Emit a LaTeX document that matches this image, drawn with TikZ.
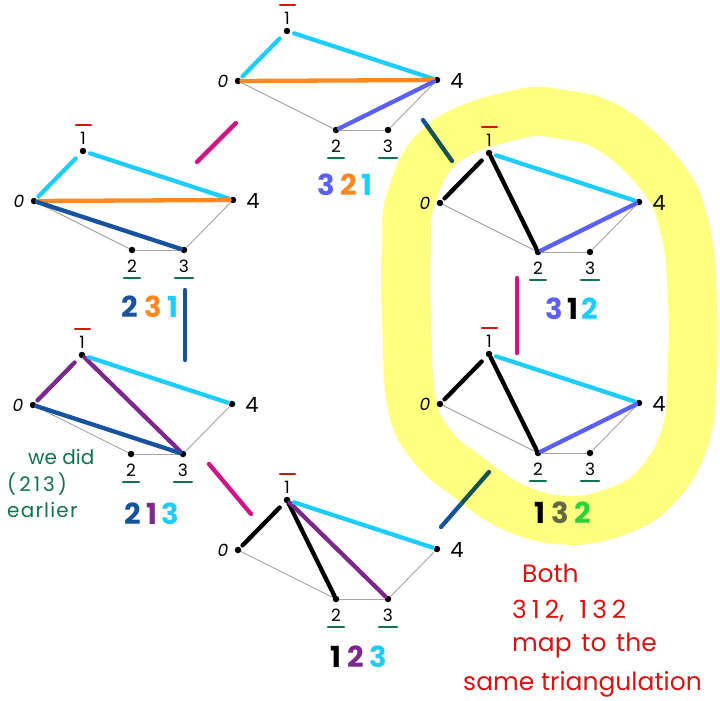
\documentclass[tikz,border=0pt]{standalone}
\usepackage{fontspec}
\setmainfont{Poppins}
\usetikzlibrary{calc}
\definecolor{cy}{RGB}{30,205,250}
\definecolor{orng}{RGB}{255,136,32}
\definecolor{vb}{RGB}{92,96,250}
\definecolor{db}{RGB}{22,82,158}
\definecolor{pu}{RGB}{124,40,140}
\definecolor{mg}{RGB}{208,20,135}
\definecolor{gn}{RGB}{20,112,82}
\definecolor{rd}{RGB}{215,20,20}
\definecolor{sl}{RGB}{96,104,136}
\definecolor{bg}{RGB}{40,212,120}
\definecolor{hl}{RGB}{255,255,128}
\definecolor{gr}{RGB}{165,165,165}
\newcommand{\lfont}{\fontsize{17}{17}\selectfont}
\newcommand{\nfont}{\fontsize{29}{29}\selectfont\bfseries}
\newcommand{\pent}[3]{%
  \node[dot] (#1-1) at (#2,#3) {};
  \node[dot] (#1-0) at (#2-49,#3+50) {};
  \node[dot] (#1-4) at (#2+150,#3+49) {};
  \node[dot] (#1-2) at (#2+49,#3+99) {};
  \node[dot] (#1-3) at (#2+101,#3+99) {};
  \node[lab] (#1-l1) at (#2,#3-13) {1};
  \draw[redbar] (#2-7,#3-26) -- (#2+8,#3-26);
  \node[lab,font=\lfont\itshape] (#1-l0) at (#2-64,#3+50) {0};
  \node[lab,font=\fontsize{21}{21}\selectfont] (#1-l4) at (#2+170,#3+50) {4};
  \node[lab] (#1-l2) at (#2+49,#3+115) {2};
  \node[lab] (#1-l3) at (#2+101,#3+115) {3};
  \draw[gnbar] (#2+41,#3+127) -- (#2+57,#3+127);
  \draw[gnbar] (#2+92,#3+127) -- (#2+110,#3+127);
  \draw[thin edge] (#1-0) -- (#1-2);
  \draw[thin edge] (#1-2) -- (#1-3);
  \draw[thin edge] (#1-3) -- (#1-4);
}
\tikzset{
  dot/.style={circle,fill=black,inner sep=0pt,minimum size=6.5pt},
  lab/.style={inner sep=0pt,font=\lfont},
  redbar/.style={draw=rd,line width=2.4pt,line cap=round},
  gnbar/.style={draw=gn,line width=2.4pt,line cap=round},
  thin edge/.style={draw=gr,line width=0.9pt},
  ce/.style={line width=4.3pt,line cap=round},
  e10/.style={ce,shorten <=7pt,shorten >=3pt},
  e14/.style={ce,shorten <=4pt,shorten >=1pt},
  conn/.style={line width=4.3pt,line cap=round},
  num/.style={inner sep=0pt,font=\nfont},
  gnote/.style={anchor=west,inner sep=0pt,text=gn,font=\fontsize{20}{20}\selectfont},
  rnote/.style={anchor=west,inner sep=0pt,text=rd,font=\fontsize{25}{25}\selectfont},
}
\begin{document}
\begin{tikzpicture}[x=1pt,y=-1pt]
\useasboundingbox[fill=white] (0,0) rectangle (720,701);
% pentagons
\pent{T}{287}{31}
\pent{LT}{83}{151}
\pent{LM}{82}{355}
\pent{B}{287}{500}
\pent{RT}{489}{153}
\pent{RM}{489}{354}
% top
\draw[e10,cy] (T-1) -- (T-0);
\draw[e14,cy] (T-1) -- (T-4);
\draw[ce,orng] (T-0) -- (T-4);
\draw[ce,vb] (T-2) -- (T-4);
% left top
\draw[e10,cy] (LT-1) -- (LT-0);
\draw[e14,cy] (LT-1) -- (LT-4);
\draw[ce,orng] (LT-0) -- (LT-4);
\draw[ce,db] (LT-0) -- (LT-3);
% left middle
\draw[e10,pu] (LM-1) -- (LM-0);
\draw[ce,pu] (LM-1) -- (LM-3);
\draw[e14,cy] (LM-1) -- (LM-4);
\draw[ce,db] (LM-0) -- (LM-3);
% bottom
\draw[e10,black] (B-1) -- (B-0);
\draw[ce,black] (B-1) -- (B-2);
\draw[ce,pu] (B-1) -- (B-3);
\draw[e14,cy] (B-1) -- (B-4);
% right top
\draw[e10,black] (RT-1) -- (RT-0);
\draw[ce,black] (RT-1) -- (RT-2);
\draw[e14,cy] (RT-1) -- (RT-4);
\draw[ce,vb] (RT-2) -- (RT-4);
% right middle
\draw[e10,black] (RM-1) -- (RM-0);
\draw[ce,black] (RM-1) -- (RM-2);
\draw[e14,cy] (RM-1) -- (RM-4);
\draw[ce,vb] (RM-2) -- (RM-4);
% permutation labels
\node[num] (Tn) at (345,185) {\textcolor{vb}{3}\hspace{5pt}\textcolor{orng}{2}\hspace{5pt}\textcolor{cy}{1}};
\node[num] (LTn) at (150,307) {\textcolor{db}{2}\hspace{6pt}\textcolor{orng}{3}\hspace{6pt}\textcolor{cy}{1}};
\node[num] (LMn) at (152,514) {\textcolor{db}{2}\hspace{5pt}\textcolor{pu}{1}\hspace{5pt}\textcolor{cy}{3}};
\node[num] (Bn) at (359,657) {\textcolor{black}{1}\hspace{6pt}\textcolor{pu}{2}\hspace{6pt}\textcolor{cy}{3}};
\node[num] (RTn) at (572,309) {\textcolor{vb}{3}\hspace{4pt}\textcolor{black}{1}\hspace{4pt}\textcolor{cy}{2}};
\node[num] (RMn) at (563,513) {\textcolor{black}{1}\hspace{6pt}\textcolor{sl}{3}\hspace{6pt}\textcolor{bg}{2}};
% connectors between triangulations
\coordinate (m1a) at (197,162); \coordinate (m1b) at (236,123);
\coordinate (b1a) at (185,290); \coordinate (b1b) at (185,360);
\coordinate (m2a) at (209,464); \coordinate (m2b) at (251,514);
\coordinate (b2a) at (441,527); \coordinate (b2b) at (489,472);
\coordinate (b3a) at (423,120); \coordinate (b3b) at (452,161);
\coordinate (m3a) at (517,278); \coordinate (m3b) at (517,353);
\draw[conn,mg] (m1a) -- (m1b);
\draw[conn,db] (b1a) -- (b1b);
\draw[conn,mg] (m2a) -- (m2b);
\draw[conn,db] (b2a) -- (b2b);
\draw[conn,db] (b3a) -- (b3b);
\draw[conn,mg] (m3a) -- (m3b);
% notes
\node[gnote] (n1) at (28,457) {we did};
\node[gnote] (n2) at (7,484) {(\hspace{3pt}2\hspace{3pt}1\hspace{3pt}3\hspace{3pt})};
\node[gnote] (n3) at (7,510) {\addfontfeatures{LetterSpace=6}earlier};
\node[rnote] (r1) at (522,573) {Both};
\node[rnote] (r2) at (512,611) {3\hspace{5pt}1\hspace{5pt}2,\hspace{15pt}1\hspace{5pt}3\hspace{5pt}2};
\node[rnote] (r3) at (512,645) {map\hspace{3pt} to\hspace{3pt} the};
\node[rnote] (r4) at (463,684) {same triangulation};
% highlight
\begin{scope}[blend mode=multiply]
\draw[hl,line width=49pt,line join=round] plot[smooth cycle,tension=0.7] coordinates {
 (515,115) (445,142) (412,195) (406,255) (407,330) (412,405) (433,447) (468,477)
 (513,507) (563,520) (612,513) (655,488) (685,437) (692,372) (692,289) (684,225)
 (663,178) (612,130) (560,114)};
\end{scope}
\end{tikzpicture}
\end{document}
